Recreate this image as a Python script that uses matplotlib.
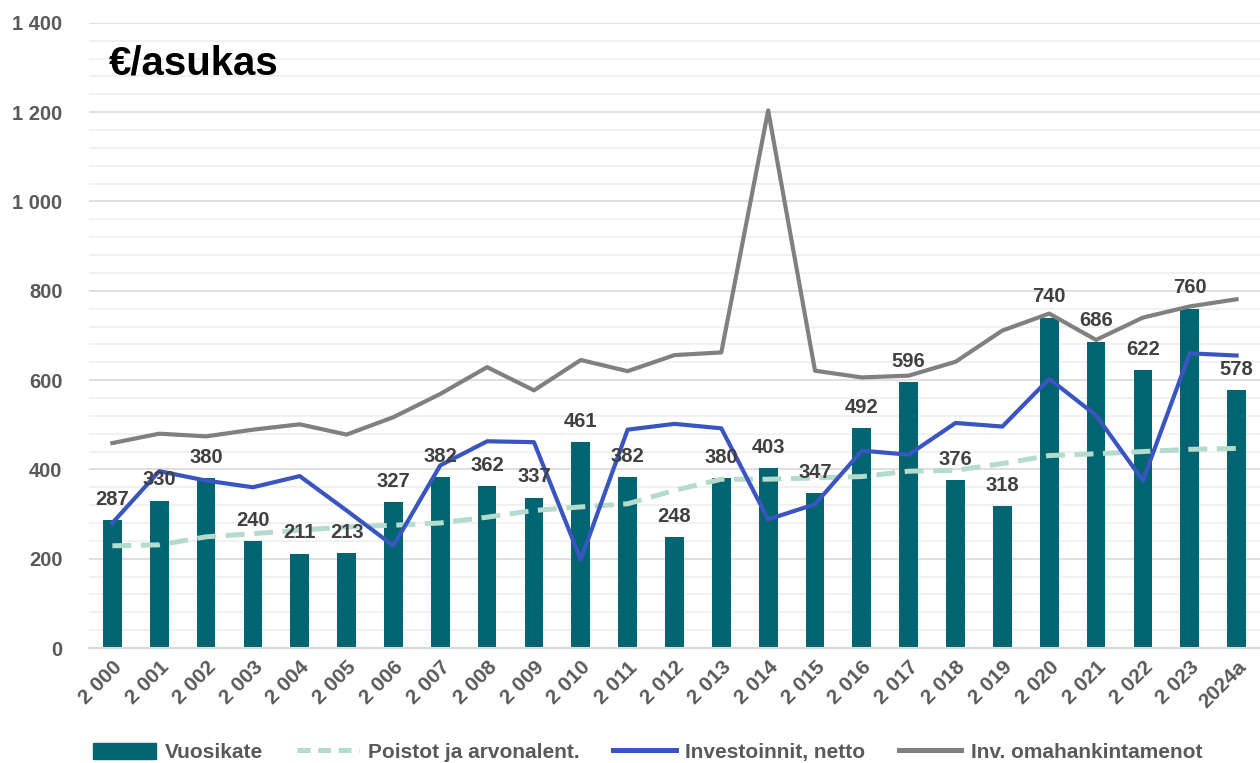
import matplotlib
matplotlib.use("Agg")
import matplotlib.pyplot as plt
from matplotlib.ticker import MultipleLocator, FuncFormatter
from matplotlib.lines import Line2D
from matplotlib.patches import Patch
import numpy as np

plt.rcParams['font.family'] = ['Liberation Sans', 'DejaVu Sans']

years = ["2 000", "2 001", "2 002", "2 003", "2 004", "2 005", "2 006", "2 007", "2 008",
         "2 009", "2 010", "2 011", "2 012", "2 013", "2 014", "2 015", "2 016", "2 017",
         "2 018", "2 019", "2 020", "2 021", "2 022", "2 023", "2024a"]
vuosikate = [287, 330, 380, 240, 211, 213, 327, 382, 362, 337, 461, 382, 248, 380, 403,
             347, 492, 596, 376, 318, 740, 686, 622, 760, 578]
poistot = [229, 231, 249, 256, 264, 271, 275, 280, 293, 308, 316, 323, 353, 378, 378,
           381, 384, 396, 398, 413, 431, 435, 440, 445, 447]
investoinnit = [280, 396, 375, 360, 385, 308, 229, 409, 463, 461, 198, 489, 502, 492, 288,
                322, 442, 433, 504, 496, 603, 521, 375, 660, 655]
omahankinta = [459, 480, 474, 489, 501, 478, 517, 569, 629, 577, 645, 620, 656, 662, 1204,
               621, 606, 610, 641, 711, 749, 690, 740, 765, 781]

c_bar = "#006471"
c_green = "#B5DBCC"
c_blue = "#3A55C0"
c_gray = "#808080"
c_tick = "#595959"
c_lab = "#404040"

fig = plt.figure(figsize=(12.6, 7.63), dpi=100)
ax = fig.add_axes([0.0706, 0.1507, 0.9294, 0.8193])

x = np.arange(len(years))
ax.bar(x, vuosikate, width=0.40, color=c_bar, zorder=2)
ax.plot(x, poistot, color=c_green, lw=3.6, dashes=(3.8, 1.9), zorder=3)
ax.plot(x, investoinnit, color=c_blue, lw=3.0, zorder=4)
ax.plot(x, omahankinta, color=c_gray, lw=3.0, zorder=4)

for xi, v in zip(x, vuosikate):
    ax.annotate(f"{v}", (xi, v), xytext=(0, 15), textcoords="offset points",
                ha="center", va="center", fontsize=14.5, fontweight="bold",
                color=c_lab, zorder=6)

ax.set_xlim(-0.5, len(years) - 0.5)
ax.set_ylim(0, 1400)
ax.yaxis.set_major_locator(MultipleLocator(200))
ax.yaxis.set_minor_locator(MultipleLocator(40))
ax.yaxis.set_major_formatter(FuncFormatter(lambda v, p: f"{int(v):,}".replace(",", " ")))
ax.grid(axis="y", which="major", color="#d9d9d9", lw=1.2, zorder=0)
ax.grid(axis="y", which="minor", color="#efefef", lw=1.2, zorder=0)
ax.set_axisbelow(True)
for s in ["top", "right", "left"]:
    ax.spines[s].set_visible(False)
ax.spines["bottom"].set_color("#d9d9d9")
ax.spines["bottom"].set_linewidth(1.5)
ax.tick_params(axis="y", which="both", length=0, pad=19, labelsize=14.5, labelcolor=c_tick)
for t in ax.get_yticklabels():
    t.set_fontweight("bold")
ax.set_xticks(x)
ax.set_xticklabels(years, rotation=45, ha="right", rotation_mode="anchor",
                   fontsize=15, color=c_tick, fontweight="bold")
ax.tick_params(axis="x", length=0, pad=7)

ax.text(0.017, 0.935, "€/asukas", transform=ax.transAxes, fontsize=29,
        fontweight="bold", color="black", ha="left", va="center")

handles = [Patch(color=c_bar),
           Line2D([0], [0], color=c_green, lw=3.6, dashes=(2.6, 1.5)),
           Line2D([0], [0], color=c_blue, lw=3.6),
           Line2D([0], [0], color=c_gray, lw=3.6)]
labels = ["Vuosikate", "Poistot ja arvonalent.", "Investoinnit, netto", "Inv. omahankintamenot"]
leg = fig.legend(handles, labels, loc="center", bbox_to_anchor=(0.514, 0.014), ncol=4,
                 frameon=False, handlelength=3.0, handleheight=0.8, handletextpad=0.45,
                 columnspacing=1.6, prop={"size": 15, "weight": "bold"})
for t in leg.get_texts():
    t.set_color(c_tick)

fig.savefig("out.png", dpi=100)
